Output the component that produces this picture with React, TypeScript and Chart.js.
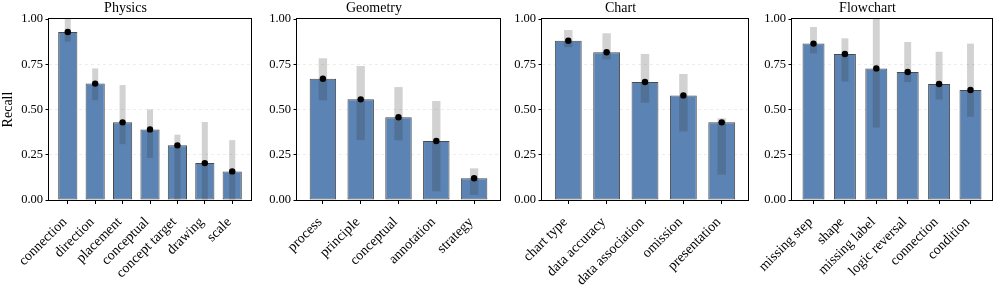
import React, { useEffect, useRef } from 'react';
import { Chart, registerables } from 'chart.js';

Chart.register(...registerables);

// ---------- data ----------
const physicsCategories = ['connection', 'direction', 'placement', 'conceptual', 'concept target', 'drawing', 'scale'];
const physicsMean = [0.928, 0.643, 0.429, 0.39, 0.302, 0.204, 0.158];
const physicsLow = [0.875, 0.552, 0.309, 0.232, 0.0, 0.0, 0.0];
const physicsHigh = [1.0, 0.727, 0.635, 0.5, 0.361, 0.431, 0.331];

const geometryCategories = ['process', 'principle', 'conceptual', 'annotation', 'strategy'];
const geometryMean = [0.67, 0.556, 0.457, 0.326, 0.12];
const geometryLow = [0.551, 0.331, 0.33, 0.048, 0.028];
const geometryHigh = [0.783, 0.74, 0.624, 0.547, 0.175];

const chartCategories = ['chart type', 'data accuracy', 'data association', 'omission', 'presentation'];
const chartMean = [0.88, 0.816, 0.652, 0.578, 0.429];
const chartLow = [0.845, 0.777, 0.538, 0.379, 0.14];
const chartHigh = [0.939, 0.921, 0.807, 0.696, 0.451];

const flowchartCategories = ['missing step', 'shape', 'missing label', 'logic reversal', 'connection', 'condition'];
const flowchartMean = [0.864, 0.807, 0.727, 0.707, 0.641, 0.608];
const flowchartLow = [0.81, 0.655, 0.4, 0.652, 0.556, 0.46];
const flowchartHigh = [0.956, 0.893, 1.0, 0.873, 0.819, 0.864];

const yTicks = [0, 0.25, 0.5, 0.75, 1.0];

// ---------- style ----------
const FONT = "'Liberation Serif', 'Times New Roman', Times, serif";
const BAR_COLOR = '#5b83b4';
const BAR_EDGE = '#4a4a4a';
const RANGE_COLOR = 'rgba(50,50,50,0.22)';
const Y_AXIS_W = 49;
const PAD_R = 10;
const H = 286;
const PLOT_TOP = 19;
const PLOT_BOTTOM = 200;

const framePlugin = {
  id: 'frame',
  afterDatasetsDraw(chart: any) {
    const { ctx, chartArea } = chart;
    const l = Math.round(chartArea.left);
    const t = Math.round(chartArea.top);
    const r = Math.round(chartArea.right);
    const b = Math.round(chartArea.bottom);
    ctx.save();
    ctx.strokeStyle = '#000';
    ctx.lineWidth = 1;
    ctx.strokeRect(l - 0.5, t - 0.5, r - l + 1, b - t + 1);
    ctx.restore();
  },
};

type PanelProps = {
  title: string;
  cats: string[];
  mean: number[];
  low: number[];
  high: number[];
  plotLeft: number;
  plotRight: number;
  yTitle?: string;
};

function Panel(p: PanelProps) {
  const ref = useRef<HTMLCanvasElement | null>(null);
  const cw = p.plotRight - p.plotLeft + Y_AXIS_W + PAD_R;

  useEffect(() => {
    if (!ref.current) return;
    const n = p.cats.length;
    const chart = new Chart(ref.current, {
      type: 'bar',
      data: {
        datasets: [
          {
            type: 'line',
            data: p.mean.map((v, i) => ({ x: i, y: v })),
            showLine: false,
            pointRadius: 3.2,
            pointHoverRadius: 3.2,
            pointBackgroundColor: '#000',
            pointBorderColor: '#000',
            pointBorderWidth: 0,
            order: 1,
          } as any,
          {
            type: 'bar',
            data: p.low.map((v, i) => ({ x: i, y: [v, p.high[i]] })),
            backgroundColor: RANGE_COLOR,
            borderWidth: 0,
            barPercentage: 0.22,
            categoryPercentage: 1,
            grouped: false,
            order: 2,
          } as any,
          {
            type: 'bar',
            data: p.mean.map((v, i) => ({ x: i, y: v })),
            backgroundColor: BAR_COLOR,
            borderColor: BAR_EDGE,
            borderWidth: 1,
            borderSkipped: false,
            barPercentage: 0.7,
            categoryPercentage: 1,
            grouped: false,
            order: 3,
          } as any,
        ],
      },
      options: {
        animation: false,
        responsive: false,
        devicePixelRatio: 1,
        events: [],
        layout: { padding: { left: 0, right: PAD_R, top: 0, bottom: 0 } },
        plugins: {
          legend: { display: false },
          tooltip: { enabled: false },
          title: {
            display: true,
            text: p.title,
            color: '#000',
            font: { family: FONT, size: 14, weight: 'normal', lineHeight: 1.2 },
            padding: { top: 0, bottom: PLOT_TOP - 14 * 1.2 },
          },
        },
        scales: {
          x: {
            type: 'linear',
            offset: false,
            min: -0.685,
            max: n - 1 + 0.685,
            afterBuildTicks: (s: any) => {
              s.ticks = p.cats.map((_, i) => ({ value: i }));
            },
            afterFit: (s: any) => {
              s.height = H - PLOT_BOTTOM;
            },
            grid: {
              offset: false,
              drawOnChartArea: false,
              drawTicks: true,
              tickLength: 4,
              tickColor: '#000',
              tickWidth: 1,
            },
            border: { display: false },
            ticks: {
              autoSkip: false,
              maxRotation: 45,
              minRotation: 45,
              padding: 10,
              labelOffset: -3,
              color: '#000',
              font: { family: FONT, size: 14 },
              callback: (v: any) => p.cats[Math.round(Number(v))] ?? '',
            },
          } as any,
          y: {
            type: 'linear',
            min: 0,
            max: 1,
            afterBuildTicks: (s: any) => {
              s.ticks = yTicks.map((v) => ({ value: v }));
            },
            afterFit: (s: any) => {
              s.width = Y_AXIS_W;
            },
            grid: {
              color: (c: any) => (c.tick && (c.tick.value === 0 || c.tick.value === 1) ? 'rgba(0,0,0,0)' : 'rgba(0,0,0,0.09)'),
              lineWidth: 0.8,
              drawTicks: true,
              tickLength: 3.5,
              tickColor: '#000',
              tickWidth: 1,
            },
            border: { display: false, dash: [3, 3] },
            ticks: {
              padding: 2.5,
              color: '#000',
              font: { family: FONT, size: 12.5 },
              callback: (v: any) => Number(v).toFixed(2),
            },
            title: p.yTitle
              ? {
                  display: true,
                  text: p.yTitle,
                  color: '#000',
                  font: { family: FONT, size: 14 },
                  padding: { top: 0, bottom: 0 },
                }
              : { display: false },
          } as any,
        },
      } as any,
      plugins: [framePlugin],
    });
    return () => chart.destroy();
  }, []);

  return (
    <canvas
      ref={ref}
      width={cw}
      height={H}
      style={{
        position: 'absolute',
        left: p.plotLeft - Y_AXIS_W,
        top: 0,
        width: cw,
        height: H,
      }}
    />
  );
}

export default function App() {
  return (
    <div
      style={{
        position: 'fixed',
        left: 0,
        top: 0,
        width: 997,
        height: 286,
        background: '#fff',
        overflow: 'hidden',
      }}
    >
      <Panel title="Physics" cats={physicsCategories} mean={physicsMean} low={physicsLow} high={physicsHigh} plotLeft={49} plotRight={251} yTitle="Recall" />
      <Panel title="Geometry" cats={geometryCategories} mean={geometryMean} low={geometryLow} high={geometryHigh} plotLeft={297} plotRight={500} />
      <Panel title="Chart" cats={chartCategories} mean={chartMean} low={chartLow} high={chartHigh} plotLeft={542} plotRight={748} />
      <Panel title="Flowchart" cats={flowchartCategories} mean={flowchartMean} low={flowchartLow} high={flowchartHigh} plotLeft={792} plotRight={992} />
    </div>
  );
}
